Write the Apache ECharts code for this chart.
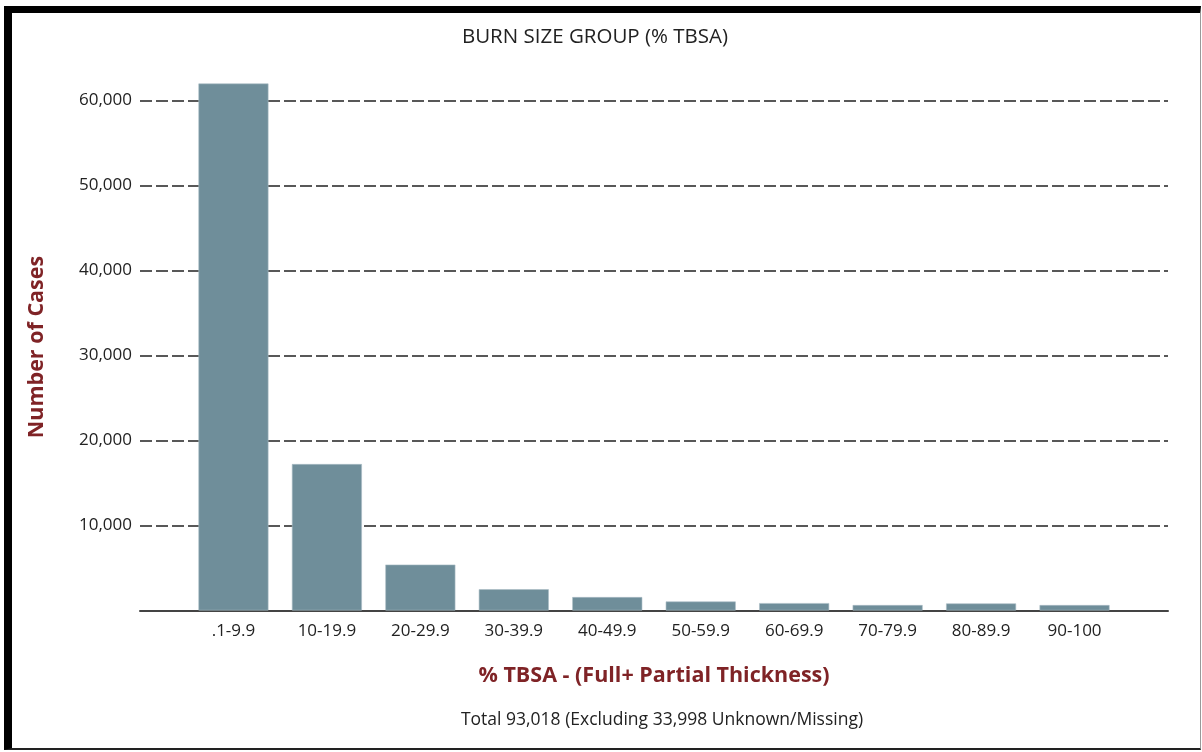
<!DOCTYPE html>
<html>
<head>
<meta charset="utf-8">
<script src="https://cdn.jsdelivr.net/npm/echarts@6/dist/echarts.min.js"></script>
<style>
  html, body { margin: 0; padding: 0; background: #fff; }
  #chart { position: absolute; left: 0; top: 0; width: 1202px; height: 752px; }
  .frame {
    position: absolute; left: 4px; top: 6px; width: 1197px; height: 744px;
    box-sizing: border-box; pointer-events: none;
    border-top: 7px solid #000; border-left: 8px solid #000;
    border-right: 1px solid #999; border-bottom: 2px solid #222;
  }
</style>
</head>
<body>
<div id="chart"></div>
<div class="frame"></div>
<script>
// burn size groups (% TBSA)
const categories = ['.1-9.9', '10-19.9', '20-29.9', '30-39.9', '40-49.9',
  '50-59.9', '60-69.9', '70-79.9', '80-89.9', '90-100']
const cases = [62000, 17230, 5400, 2500, 1580, 1060, 870, 640, 830, 640]
const yTicks = [0, 10000, 20000, 30000, 40000, 50000, 60000]

const FONT = '"Open Sans", Lato, sans-serif'
const RED = '#7f2326'

// pad one empty slot on each side so the bars sit inside the axis line
const xData = ['', ...categories, '']
const yData = [null, ...cases, null]

const chart = echarts.init(document.getElementById('chart'))
chart.setOption({
  animation: false,
  textStyle: { fontFamily: FONT },
  title: [
    {
      text: 'BURN SIZE GROUP (% TBSA)',
      left: 590, top: 22, textAlign: 'center',
      textStyle: { fontSize: 20.5, fontWeight: 'normal', color: '#222', fontFamily: FONT },
    },
    {
      text: 'Total 93,018 (Excluding 33,998 Unknown/Missing)',
      left: 657, top: 706, textAlign: 'center',
      textStyle: { fontSize: 17.5, fontWeight: 'normal', color: '#222', fontFamily: FONT },
    },
  ],
  graphic: [
    {
      type: 'text',
      x: 37, y: 347, rotation: Math.PI / 2,
      style: {
        text: 'Number of Cases', fill: RED, fontFamily: FONT,
        fontSize: 21.5, fontWeight: 'bold', align: 'center', verticalAlign: 'middle',
      },
    },
  ],
  grid: { left: 140, right: 34, top: 100.5, bottom: 141.5, containLabel: false },
  xAxis: {
    type: 'category',
    data: xData,
    boundaryGap: false,
    name: '% TBSA - (Full+ Partial Thickness)',
    nameLocation: 'middle',
    nameGap: 54,
    nameTextStyle: { color: RED, fontSize: 21.5, fontWeight: 'bold', fontFamily: FONT },
    axisLine: { lineStyle: { color: '#444', width: 2 } },
    axisTick: { show: false },
    axisLabel: { color: '#222', fontSize: 17, margin: 12, interval: 0 },
    splitLine: { show: false },
  },
  yAxis: {
    type: 'value',
    min: yTicks[0],
    max: yTicks[yTicks.length - 1],
    interval: yTicks[1] - yTicks[0],
    axisLine: { show: false },
    axisTick: { show: false },
    axisLabel: {
      color: '#222', fontSize: 17, margin: 8,
      formatter: (v) => (v === 0 ? '' : v.toLocaleString('en-US')),
    },
    splitLine: {
      lineStyle: { color: '#222', width: 1.7, type: [12, 4] },
    },
  },
  series: [
    {
      type: 'bar',
      data: yData,
      barWidth: 70,
      clip: false,
      itemStyle: { color: '#6f8e9a', borderColor: '#a9bcc4', borderWidth: 0.6 },
    },
  ],
})
</script>
</body>
</html>
